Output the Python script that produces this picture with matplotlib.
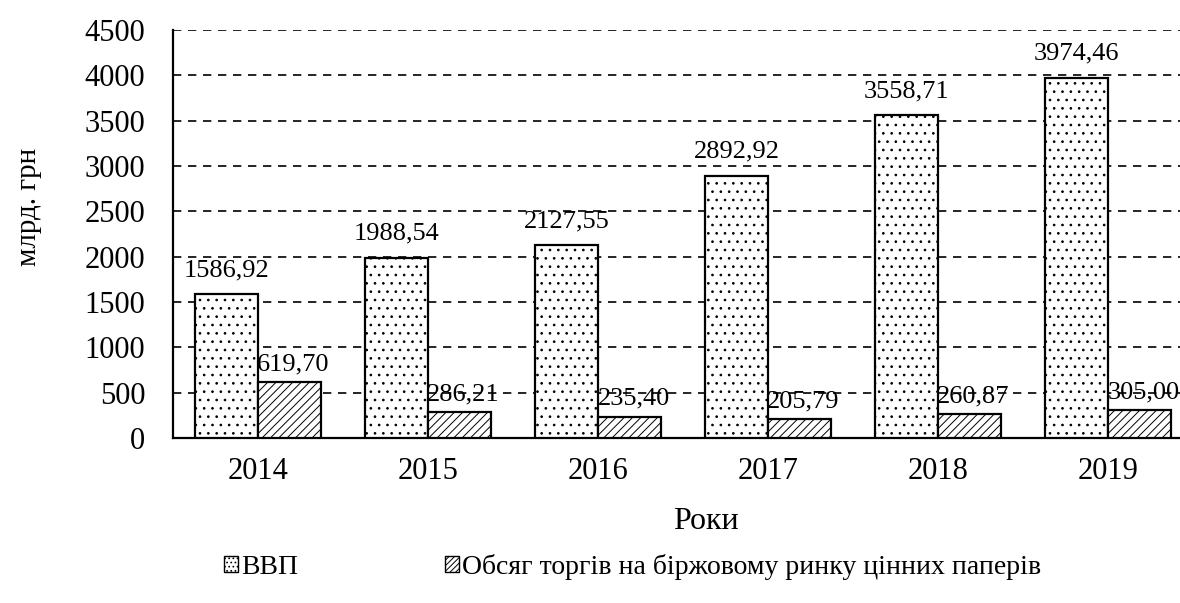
import matplotlib
matplotlib.use("Agg")
import matplotlib.pyplot as plt
from matplotlib.patches import Patch
import numpy as np

years = ["2014", "2015", "2016", "2017", "2018", "2019"]
gdp = [1586.92, 1988.54, 2127.55, 2892.92, 3558.71, 3974.46]
trade = [619.70, 286.21, 235.40, 205.79, 260.87, 305.00]
series_names = ["ВВП", "Обсяг торгів на біржовому ринку цінних паперів"]

plt.rcParams["font.family"] = ["Liberation Serif", "DejaVu Serif"]
plt.rcParams["hatch.linewidth"] = 0.7
plt.rcParams["hatch.color"] = "black"


def fmt(v):
    return f"{v:.2f}".replace(".", ",")


fig = plt.figure(figsize=(11.8, 6.03), dpi=100)
# plot area runs a little past the right edge of the figure
ax = fig.add_axes([0.1466, 0.2736, 0.8644, 0.6766])

x = np.arange(len(years))
w = 0.37
b1 = ax.bar(x - w / 2, gdp, w, color="white", edgecolor="black",
            linewidth=1.6, hatch="..", zorder=3)
b2 = ax.bar(x + w / 2, trade, w, color="white", edgecolor="black",
            linewidth=1.6, hatch="////", zorder=3)

for bars, vals, dx, dy in ((b1, gdp, 0, 13), (b2, trade, 3, 8.5)):
    for rect, v in zip(bars, vals):
        t = ax.annotate(fmt(v), (rect.get_x() + rect.get_width() / 2, v),
                        xytext=(dx, dy), textcoords="offset points",
                        ha="center", va="baseline", fontsize=19, zorder=4)
        t.set_clip_on(True)

ax.set_xlim(-0.5, 5.5)
ax.set_ylim(0, 4500)
ax.set_yticks(np.arange(0, 4501, 500))
ax.set_xticks(x)
ax.set_xticklabels(years)
ax.tick_params(axis="y", labelsize=22, length=0, pad=20)
ax.tick_params(axis="x", labelsize=22, length=0, pad=14)
ax.yaxis.grid(True, linestyle=(0, (5, 4)), color="black", linewidth=1.2, zorder=0)
ax.set_axisbelow(True)
for s in ("top", "right"):
    ax.spines[s].set_visible(False)
ax.spines["left"].set_linewidth(1.6)
ax.spines["bottom"].set_linewidth(1.6)

ax.set_xlabel("Роки", fontsize=23)
ax.xaxis.set_label_coords(0.5225, -0.17)
ax.set_ylabel("млрд. грн", fontsize=21)
ax.yaxis.set_label_coords(-0.128, 0.566)

handles = [Patch(facecolor="white", edgecolor="black", hatch="....", linewidth=1),
           Patch(facecolor="white", edgecolor="black", hatch="//////", linewidth=1)]
fig.legend(handles, series_names, loc="center left", bbox_to_anchor=(0.19, 0.06),
           ncol=2, frameon=False, fontsize=20, handlelength=0.5, handleheight=0.5,
           handletextpad=0.1, columnspacing=5.3, borderpad=0, borderaxespad=0)

fig.savefig("out.png", dpi=100)
